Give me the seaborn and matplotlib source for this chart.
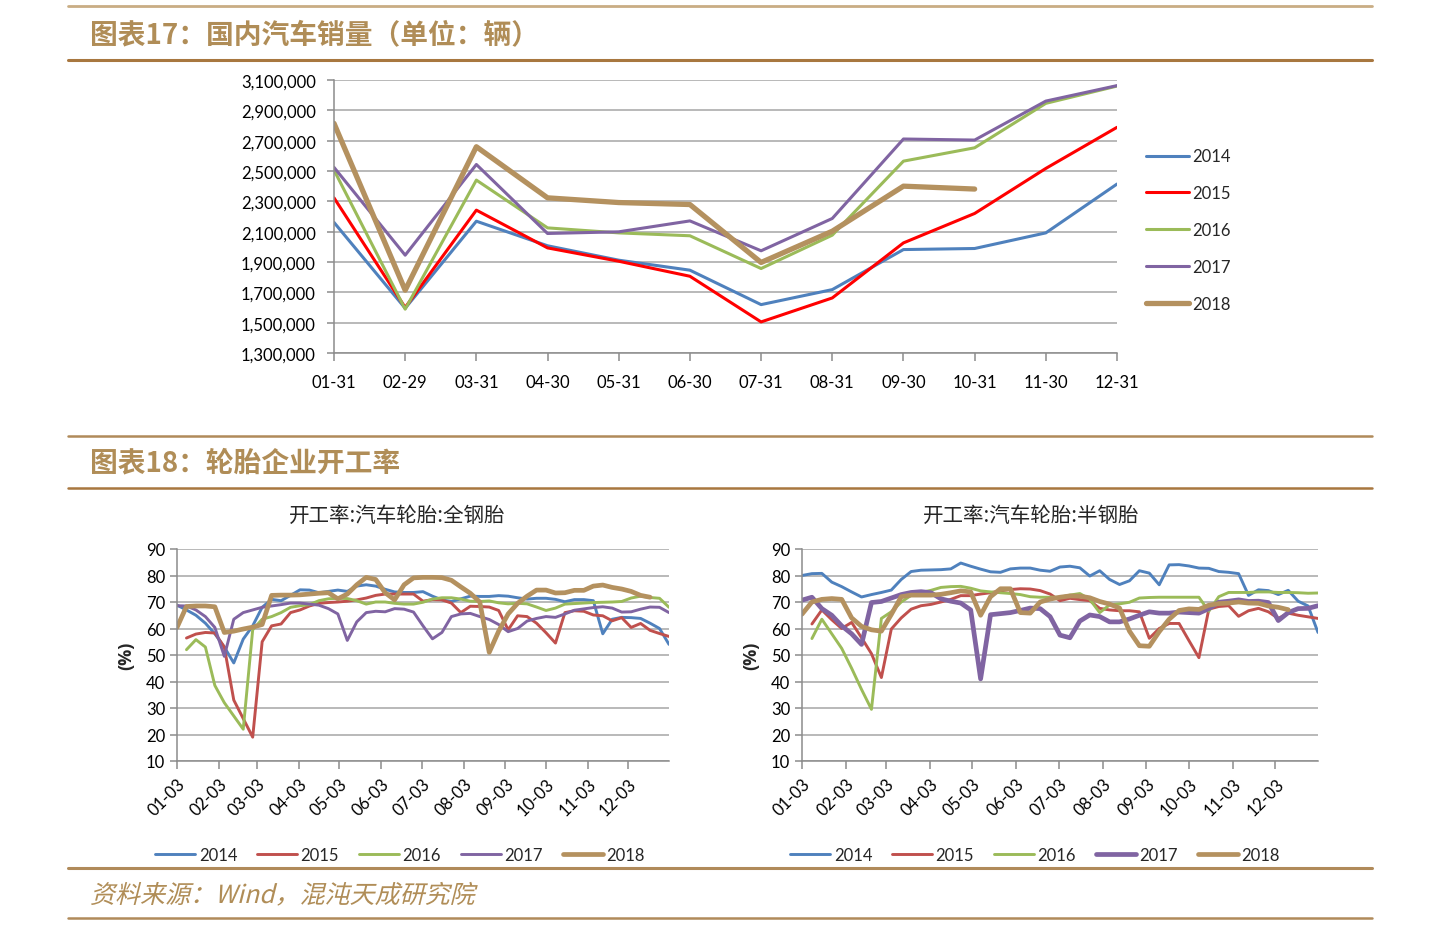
import numpy as np
import pandas as pd
import matplotlib
matplotlib.use("Agg")
import matplotlib.pyplot as plt
import matplotlib.dates as mdates
from matplotlib.lines import Line2D
from matplotlib.ticker import FuncFormatter
from matplotlib.textpath import TextPath
from matplotlib.patches import PathPatch
from matplotlib.font_manager import FontProperties
from matplotlib.transforms import Affine2D
import seaborn as sns

# ---- chart 17: domestic car sales (units) ----
months = ["01-31", "02-29", "03-31", "04-30", "05-31", "06-30",
          "07-31", "08-31", "09-30", "10-31", "11-30", "12-31"]
sales_2014 = [2161000, 1595000, 2169000, 2007000, 1912000, 1846000,
              1619000, 1718000, 1982000, 1989000, 2092000, 2414000]
sales_2015 = [2323000, 1600000, 2242000, 1993000, 1905000, 1806000,
              1505000, 1663000, 2026000, 2220000, 2517000, 2788000]
sales_2016 = [2506000, 1589000, 2440000, 2125000, 2092000, 2073000,
              1857000, 2077000, 2565000, 2653000, 2946000, 3060000]
sales_2017 = [2524000, 1945000, 2543000, 2088000, 2099000, 2171000,
              1974000, 2187000, 2711000, 2704000, 2961000, 3063000]
sales_2018 = [2814000, 1714000, 2660000, 2323000, 2292000, 2279000,
              1897000, 2103000, 2400000, 2381000]

# ---- chart 18: tyre plant operating rate (%), weekly from 01-03 ----
nan = np.nan
steel_2014 = [68.8, 67, 65, 62, 58, 53, 47, 56, 61, 68, 71, 70.5, 72.5, 74.6, 74.5, 73.5,
              74, 74.5, 74, 76, 76.5, 76, 74.8, 73.8, 73.6, 73.6, 73.9, 72.2, 70.8, 70.2,
              71.2, 72.2, 72.1, 72.1, 72.4, 72.2, 71.6, 71.1, 71.4, 71.4, 71, 70.1, 70.9,
              70.9, 70.5, 58, 63.5, 64.2, 64.1, 63.8, 62, 60, 54]
steel_2015 = [nan, 56.4, 57.9, 58.5, 58.3, 53, 33, 26, 19, 55, 61, 61.7, 66, 67, 68.5, 69.5,
              69.8, 70, 70.3, 70.8, 71.5, 72.5, 73, 73, 73, 73, 70.3, 70.9, 70.8, 69.6,
              66, 68.4, 68.3, 68.1, 66.8, 59.5, 64.8, 64.5, 62, 58.4, 54.5, 66, 66.7,
              66.5, 65.1, 64.8, 62.9, 64.1, 60.4, 61.9, 59.3, 58.1, 57]
steel_2016 = [nan, 52, 55.8, 53, 38.5, 32, 27, 22, 59.5, 63.5, 64.5, 66, 68, 68.6, 69, 70.5,
              71.2, 71.4, 71.3, 70.5, 69.2, 70, 70, 69.5, 69.2, 69.2, 69.9, 71.1, 71.6, 71.6,
              71.1, 70.3, 70.2, 70.4, 69.7, 69.3, 69.5, 69.3, 68.1, 66.8, 67.7, 69.2, 69.4,
              69.6, 69.8, 69.9, 70, 70.2, 71.5, 72.2, 71.7, 71.4, 68]
steel_2017 = [68.6, 68.5, 67, 64.5, 60.4, 49.5, 63.5, 66, 67, 68, 68.5, 69, 69.6, 69.6, 69.2,
              68.8, 67.5, 65.5, 55.5, 62.5, 66, 66.5, 66.3, 67.5, 67.3, 66.2, 61, 56.1, 58.5,
              64.5, 65.5, 65.7, 64.5, 63.4, 61.5, 58.8, 60, 62.8, 63.8, 64.5, 64.2, 65.5,
              66.9, 67.4, 67.9, 68.2, 67.7, 66.2, 66.3, 67.3, 68.1, 68, 66]
steel_2018 = [60.4, 68.3, 68.5, 68.5, 68.2, 58.5, 59, 59.8, 60.5, 61.5, 72.5, 72.6, 72.6, 72.7,
              73, 73.3, 73.5, 71.2, 73, 76.5, 79.3, 78.5, 73.5, 70.8, 76.5, 79.1, 79.3, 79.3,
              79.2, 78.2, 75.7, 73.3, 70, 51, 59, 65.5, 69.5, 72.2, 74.5, 74.5, 73.4, 73.5,
              74.4, 74.4, 76, 76.4, 75.5, 74.9, 74, 72.5, 71.8]

semi_2014 = [80, 80.7, 80.8, 77.5, 75.8, 73.8, 71.9, 72.8, 73.6, 74.5, 78.5, 81.5, 82, 82.1,
             82.2, 82.5, 84.7, 83.5, 82.4, 81.4, 81.2, 82.5, 82.8, 82.8, 82, 81.6, 83.2, 83.5,
             82.9, 79.8, 81.8, 78.5, 76.6, 78, 81.8, 80.9, 76.5, 84, 84.1, 83.6, 82.8, 82.7,
             81.5, 81.2, 80.7, 72.5, 74.6, 74.3, 72.8, 74.4, 70.3, 68.5, 58.5]
semi_2015 = [nan, 61.7, 67, 63.3, 60, 62.3, 56.5, 50.5, 41.5, 59.8, 64, 67.3, 68.6, 69.1, 70,
             71, 72.4, 72.4, 73, 73.5, 74.2, 74.7, 75, 74.9, 74.3, 73, 70.5, 71.4, 70.9, 70.5,
             67.6, 67, 66.7, 66.7, 66.3, 56.3, 60, 61.9, 61.9, 55.4, 49, 67.3, 68.3, 68.6,
             64.6, 66.7, 67.6, 66.3, 63.8, 65.8, 65, 64.4, 63.8]
semi_2016 = [nan, 56.2, 63.5, 58, 52.5, 45, 37, 29.5, 63.8, 66.3, 70, 72.5, 73.6, 74.4, 75.5,
             75.8, 75.9, 75.2, 74.2, 73.8, 73.5, 73.2, 72.8, 72, 71.8, 71.8, 71.8, 72.6, 73.2,
             71, 66, 68.9, 69.3, 69.9, 71.5, 71.7, 71.8, 71.8, 71.8, 71.8, 71.8, 66.5, 72,
             73.6, 73.6, 73.6, 73.8, 73.8, 73.6, 73.6, 73.5, 73.3, 73.4]
semi_2017 = [70.7, 71.8, 67.5, 65, 61, 58, 54, 69.8, 70.2, 71.5, 72.8, 73.6, 73.9, 73.5, 71.2,
             70.3, 69.6, 67, 41, 65.2, 65.6, 66, 66.8, 67.7, 67.5, 64.5, 57.5, 56.5, 62.8,
             65.1, 64.5, 62.5, 62.5, 63.6, 65, 66.3, 65.8, 65.8, 66.2, 66, 65.8, 67.5, 69.9,
             70.3, 70.8, 70.2, 70.3, 69.8, 63, 66, 67.5, 67.6, 68.6]
semi_2018 = [65.4, 70, 71, 71.3, 71, 64, 60.8, 59.5, 59, 65.3, 72, 72.6, 72.6, 72.6, 72.9,
             73.5, 74.2, 73.8, 65, 72, 75, 75, 66, 65.8, 70, 71.1, 71.8, 72.3, 72.2, 71.6,
             70.2, 69.2, 67.7, 59, 53.5, 53.3, 58.8, 63.5, 66.8, 67.4, 67.2, 68.8, 69.4,
             69.6, 70, 69.6, 69.5, 68.5, 68, 67.1]

years = ["2014", "2015", "2016", "2017", "2018"]
weeks = pd.date_range("2001-01-03", periods=53, freq="7D")

blue, red, red2, green, purple, tan = "#4F81BD", "#FF0000", "#C0504D", "#9BBB59", "#8064A2", "#B4915F"
gold = "#B08D57"

sns.set_theme(style="ticks")
plt.rcParams["font.family"] = ["Lato", "Noto Sans CJK SC", "DejaVu Sans"]

W, H = 1440, 928
fig = plt.figure(figsize=(14.4, 9.28), dpi=100)


def box(l, t, r, b):
    return [l / W, 1 - b / H, (r - l) / W, (b - t) / H]


def hline(y, color, lw):
    fig.add_artist(Line2D([68 / W, 1372 / W], [1 - y / H, 1 - y / H],
                          transform=fig.transFigure, color=color, linewidth=lw))


def style(ax):
    for s in ["top", "right"]:
        ax.spines[s].set_visible(False)
    for s in ["left", "bottom"]:
        ax.spines[s].set_color("#8C8C8C")
        ax.spines[s].set_linewidth(1.1)
    ax.grid(axis="y", color="#A6A6A6", linewidth=1.1)
    ax.set_axisbelow(True)
    ax.tick_params(colors="#8C8C8C", labelcolor="black", labelsize=12,
                   length=5, width=1.1)
    ax.set_xlabel("")


# ---- headers and rules ----
hline(7, "#C9AD84", 2)
hline(61, "#A8773F", 2.2)
hline(437, "#B08A5A", 1.8)
hline(489, "#A8773F", 1.8)
hline(869, "#B08A5A", 2.2)
hline(919, "#B08A5A", 1.8)
head_font = ["Noto Sans CJK SC", "DejaVu Sans"]
fig.text(90 / W, 1 - 35 / H, "图表17：国内汽车销量（单位：辆）", fontsize=20,
         fontweight="bold", color=gold, va="center", family=head_font)
fig.text(90 / W, 1 - 463 / H, "图表18：轮胎企业开工率", fontsize=20,
         fontweight="bold", color=gold, va="center", family=head_font)

# footer in slanted text (the source uses a faux italic)
foot = TextPath((0, 0), "资料来源：Wind，混沌天成研究院", size=25,
                prop=FontProperties(family="Noto Sans CJK SC"))
foot_tf = Affine2D().skew_deg(14, 0).translate(90, H - 895 - 9)
fig.add_artist(PathPatch(foot, transform=foot_tf, facecolor=gold, edgecolor="none"))

# ---- top chart ----
ax1 = fig.add_axes(box(334, 81, 1117, 354))
top_series = [(sales_2014, blue, 2.2), (sales_2015, red, 2.2), (sales_2016, green, 2.2),
              (sales_2017, purple, 2.2), (sales_2018, tan, 3.8)]
for yr, (vals, col, lw) in zip(years, top_series):
    sns.lineplot(x=months[:len(vals)], y=vals, ax=ax1, color=col, linewidth=lw,
                 label=yr, sort=False)
style(ax1)
ax1.set_xlim(0, 11)
ax1.set_ylim(1300000, 3100000)
ax1.set_yticks(range(1300000, 3100001, 200000))
ax1.yaxis.set_major_formatter(FuncFormatter(lambda v, p: f"{int(v):,}"))
ax1.tick_params(axis="y", pad=8)
ax1.tick_params(axis="x", pad=9, length=6)
ax1.legend(loc="center left", bbox_to_anchor=(1146 / W, 1 - 231 / H),
           bbox_transform=fig.transFigure, frameon=False, fontsize=12,
           handlelength=2.6, handletextpad=0.15, labelspacing=1.25,
           borderpad=0, borderaxespad=0)


# ---- bottom charts ----
def rate_chart(rect, title, title_x, series, thick, legend_x):
    ax = fig.add_axes(rect)
    for yr, vals, col in series:
        lw = 3.4 if yr in thick else 2.1
        sns.lineplot(x=weeks[:len(vals)], y=vals, ax=ax, color=col, linewidth=lw,
                     label=yr)
    style(ax)
    ax.set_ylim(10, 90)
    ax.set_yticks(range(10, 91, 10))
    ticks = pd.date_range("2001-01-01", periods=12, freq="MS") + pd.Timedelta(days=2)
    ax.set_xticks(ticks)
    ax.xaxis.set_major_formatter(mdates.DateFormatter("%m-%d"))
    ax.set_xlim(weeks[0], weeks[-1])
    ax.tick_params(axis="x", labelrotation=45, pad=4, length=6)
    plt.setp(ax.get_xticklabels(), ha="right", rotation_mode="anchor")
    ax.set_ylabel("(%)", fontsize=13, fontweight="bold", labelpad=8,
                  family=["Open Sans", "DejaVu Sans"])
    ax.set_title(title, fontsize=14.8, pad=20, x=title_x,
                 family=["Noto Sans CJK SC", "DejaVu Sans"])
    ax.legend(loc="center", bbox_to_anchor=(legend_x / W, 1 - 856 / H),
              bbox_transform=fig.transFigure, frameon=False, ncol=5, fontsize=12,
              handlelength=2.4, handletextpad=0.2, columnspacing=1.2,
              borderpad=0, borderaxespad=0)
    return ax


rate_chart(box(177, 550, 669, 762), "开工率:汽车轮胎:全钢胎", 0.447,
           list(zip(years, [steel_2014, steel_2015, steel_2016, steel_2017, steel_2018],
                    [blue, red2, green, purple, tan])), ["2018"], 400)
rate_chart(box(802, 550, 1318, 762), "开工率:汽车轮胎:半钢胎", 0.444,
           list(zip(years, [semi_2014, semi_2015, semi_2016, semi_2017, semi_2018],
                    [blue, red2, green, purple, tan])), ["2017", "2018"], 1035)

fig.savefig("out.png", dpi=100)
